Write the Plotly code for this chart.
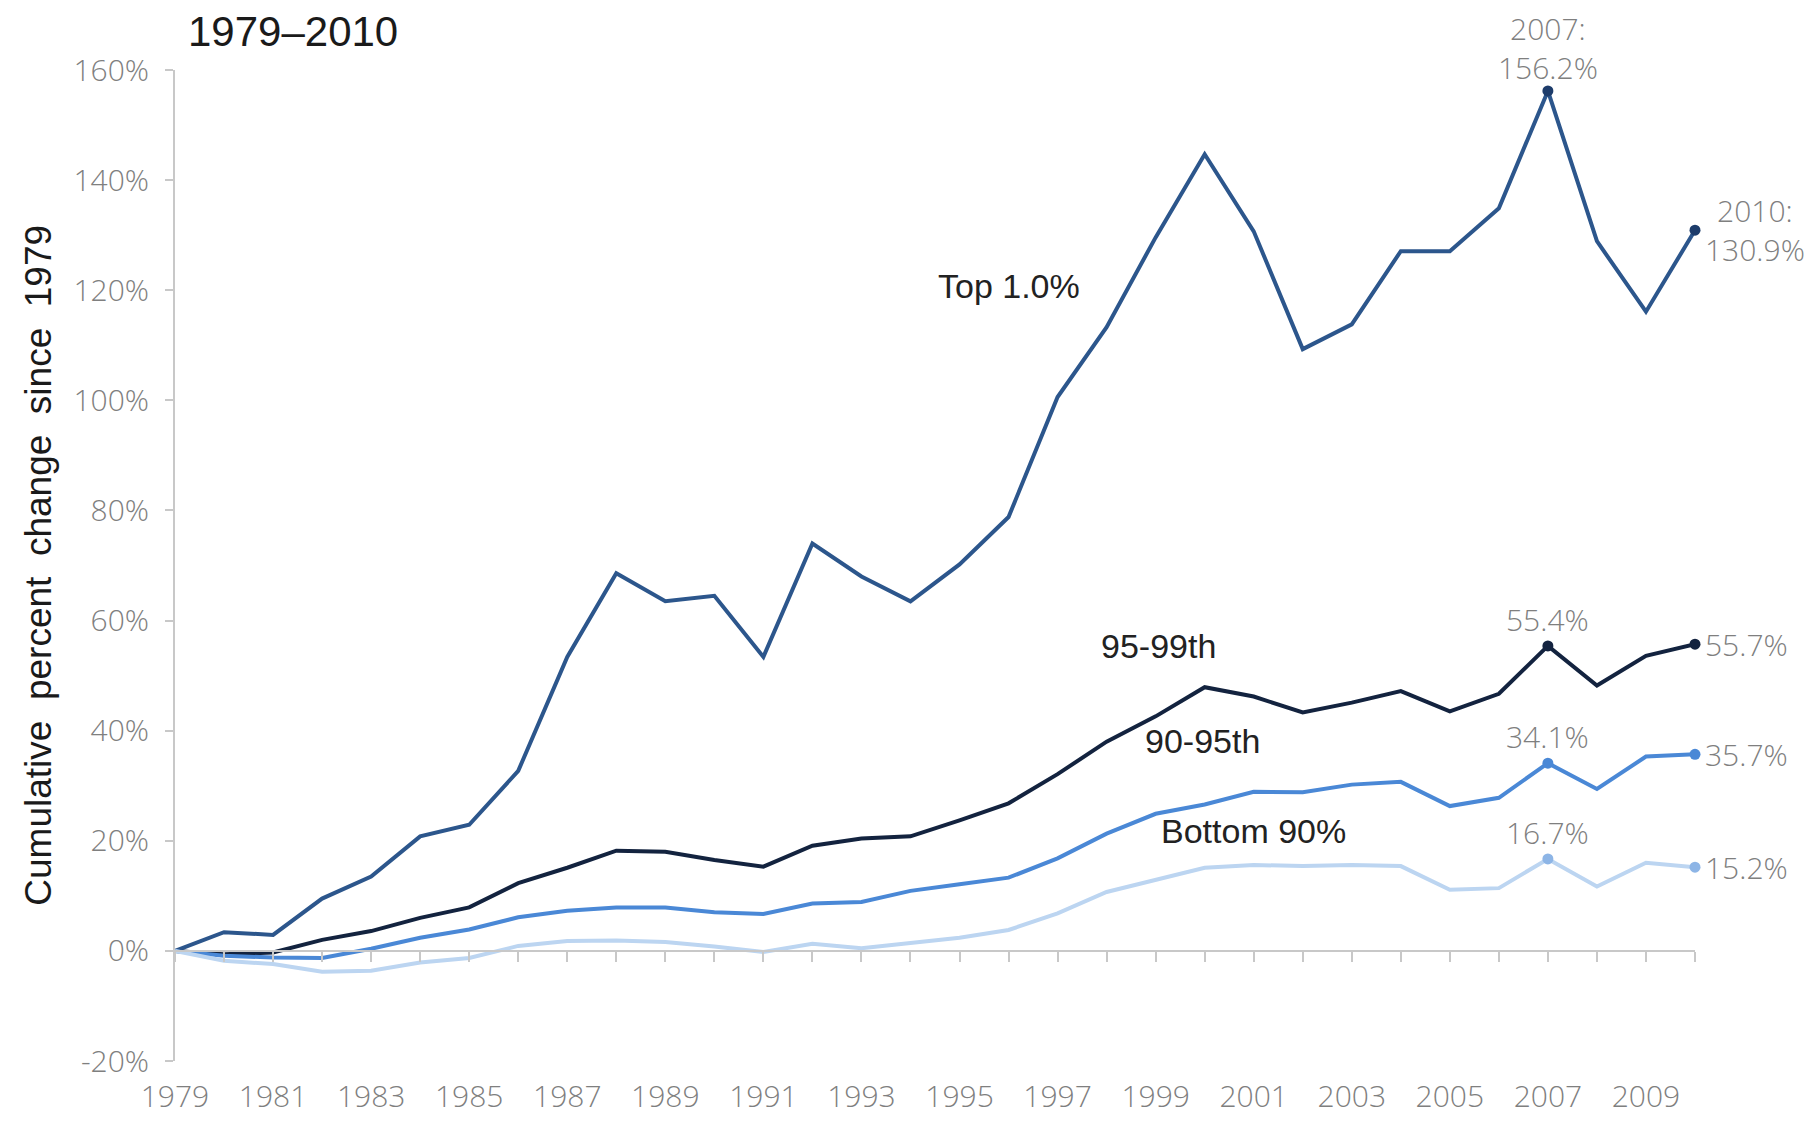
import plotly.graph_objects as go

years = list(range(1979, 2011))
top1 = [0, 3.4, 2.9, 9.5, 13.5, 20.8, 22.9, 32.7, 53.4, 68.6, 63.5, 64.5, 53.4, 74.0, 68.0, 63.5,
        70.2, 78.8, 100.6, 113.3, 129.6, 144.7, 130.7, 109.3, 113.8, 127.1, 127.1, 134.9, 156.2,
        128.9, 116.1, 130.9]
p95_99 = [0, -0.6, -0.3, 2.0, 3.6, 6.0, 7.9, 12.3, 15.1, 18.2, 18.0, 16.5, 15.3, 19.1, 20.4, 20.8,
          23.7, 26.8, 32.1, 38.0, 42.6, 47.9, 46.2, 43.3, 45.1, 47.2, 43.5, 46.7, 55.4, 48.2, 53.6, 55.7]
p90_95 = [0, -0.9, -1.2, -1.3, 0.4, 2.4, 3.9, 6.1, 7.3, 7.9, 7.9, 7.0, 6.7, 8.6, 8.9, 10.9, 12.1,
          13.3, 16.8, 21.3, 24.9, 26.6, 28.9, 28.8, 30.2, 30.7, 26.3, 27.8, 34.1, 29.4, 35.3, 35.7]
bottom90 = [0, -1.8, -2.4, -3.8, -3.6, -2.1, -1.3, 0.9, 1.8, 1.9, 1.6, 0.8, -0.2, 1.3, 0.5, 1.5,
            2.4, 3.8, 6.8, 10.7, 12.9, 15.1, 15.6, 15.4, 15.6, 15.4, 11.1, 11.4, 16.7, 11.7, 16.0, 15.2]

series_names = ["Top 1.0%", "95-99th", "90-95th", "Bottom 90%"]
series_values = [top1, p95_99, p90_95, bottom90]
line_colors = ["#2c568c", "#13233f", "#4a88d6", "#bcd5f1"]
marker_colors = ["#1d3c6b", "#13233f", "#4a88d6", "#8db5e6"]
label_pos = [(1996.0, 120.8), (1999.05, 55.3), (1999.95, 38.1), (2001.0, 21.7)]
highlight_years = [2007, 2010]
yticks = [-20, 0, 20, 40, 60, 80, 100, 120, 140, 160]

thin = dict(family="Open Sans, Segoe UI, DejaVu Sans, sans-serif", color="#7f7f7f", size=30, weight=300)
bold = dict(family="Liberation Sans, Arial, sans-serif", color="#222222", size=34)

fig = go.Figure()
for name, vals, lc in zip(series_names, series_values, line_colors):
    fig.add_trace(go.Scatter(x=years, y=vals, mode="lines", name=name,
                             line=dict(color=lc, width=4), showlegend=False, cliponaxis=False))
for name, vals, mc in zip(series_names, series_values, marker_colors):
    hx = highlight_years
    hy = [vals[years.index(y)] for y in hx]
    fig.add_trace(go.Scatter(x=hx, y=hy, mode="markers", marker=dict(color=mc, size=11),
                             showlegend=False, cliponaxis=False))

# second x axis drawn on the zero line (ticks only)
fig.add_trace(go.Scatter(x=[years[0], years[-1]], y=[0, 0], mode="lines", xaxis="x2",
                         line=dict(width=0), showlegend=False, hoverinfo="skip"))

annotations = []
for name, (lx, ly) in zip(series_names, label_pos):
    annotations.append(dict(x=lx, y=ly, text=name, showarrow=False, font=bold,
                            xanchor="center", yanchor="middle"))

i07 = years.index(2007)
i10 = years.index(2010)
annotations.append(dict(x=2007, y=top1[i07], text="2007:<br>%.1f%%" % top1[i07], showarrow=False,
                        font=thin, xanchor="center", yanchor="bottom", yshift=2, borderpad=0))
annotations.append(dict(x=2010, y=top1[i10], text="2010:<br>%.1f%%" % top1[i10], showarrow=False,
                        font=thin, xanchor="left", yanchor="middle", xshift=8))
for vals in [p95_99, p90_95, bottom90]:
    annotations.append(dict(x=2007, y=vals[i07], text="%.1f%%" % vals[i07], showarrow=False,
                            font=thin, xanchor="center", yanchor="bottom", yshift=4))
    annotations.append(dict(x=2010, y=vals[i10], text="%.1f%%" % vals[i10], showarrow=False,
                            font=thin, xanchor="left", yanchor="middle", xshift=8))

annotations.append(dict(xref="paper", yref="paper", x=0.008, y=1.039, text="1979–2010",
                        showarrow=False, xanchor="left", yanchor="middle", borderpad=0,
                        font=dict(family="Liberation Sans, Arial, sans-serif", color="#1a1a1a", size=42)))
annotations.append(dict(xref="paper", yref="paper", x=-0.09, y=0.5,
                        text="Cumulative  percent  change  since  1979", textangle=-90,
                        showarrow=False, xanchor="center", yanchor="middle",
                        font=dict(family="Liberation Sans, Arial, sans-serif", color="#1a1a1a", size=37)))

fig.update_layout(
    width=1817, height=1121,
    margin=dict(l=167, r=130, t=62, b=68),
    paper_bgcolor="white", plot_bgcolor="white",
    annotations=annotations,
    xaxis=dict(range=[1979, 2010], tickvals=years,
               ticktext=[str(y) if (y - 1979) % 2 == 0 else "" for y in years],
               showline=False, showgrid=False, zeroline=False, ticks="",
               tickfont=thin, ticklabelstandoff=15),
    xaxis2=dict(range=[1979, 2010], overlaying="x", anchor="free", position=20 / 180,
                tickvals=years, showticklabels=False, ticks="outside", ticklen=10,
                tickcolor="#c8c8c8", tickwidth=2, showline=True, linecolor="#c8c8c8",
                linewidth=2, showgrid=False, zeroline=False),
    yaxis=dict(range=[-20, 160], tickvals=yticks, ticktext=["%d%%" % v for v in yticks],
               showline=True, linecolor="#c8c8c8", linewidth=2, ticks="outside", ticklen=8,
               tickcolor="#c8c8c8", tickwidth=2, showgrid=False, zeroline=False,
               tickfont=thin, ticklabelstandoff=10),
)

fig.write_html("out.html")
